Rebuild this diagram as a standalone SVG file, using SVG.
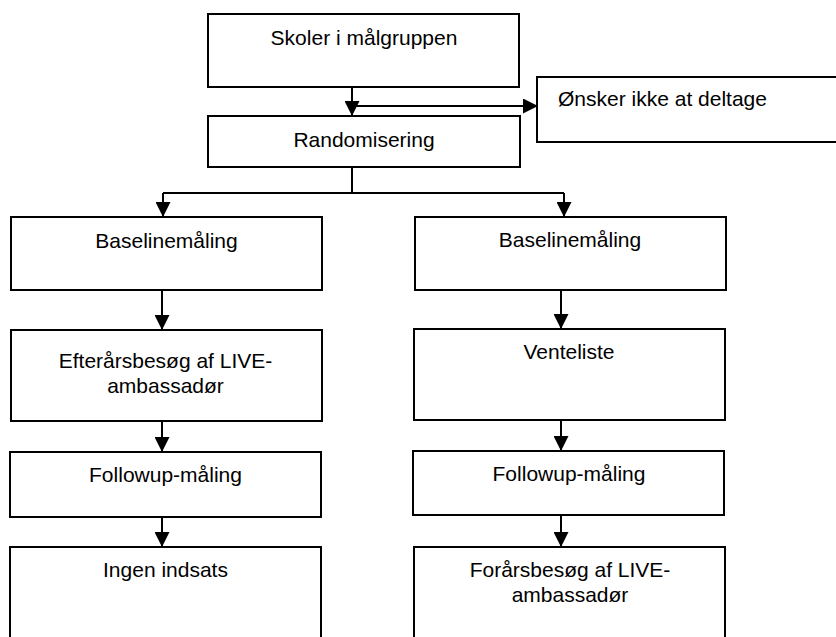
<svg xmlns="http://www.w3.org/2000/svg" width="836" height="637" viewBox="0 0 836 637">
<style>
.box{fill:#fff;stroke:#000;stroke-width:2}
.t{font-family:"Liberation Sans",Arial,sans-serif;font-size:21px;fill:#000;text-anchor:middle}
.tl{font-family:"Liberation Sans",Arial,sans-serif;font-size:21px;fill:#000}
.c{fill:none;stroke:#000;stroke-width:2}
</style>
<defs>
<marker id="ah" markerUnits="userSpaceOnUse" markerWidth="15" markerHeight="15" refX="14" refY="7" orient="auto" viewBox="0 0 14 14">
<path d="M0,0 L14,7 L0,14 z" fill="#000"/>
</marker>
</defs>
<rect width="836" height="637" fill="#fff"/>
<g id="connectors">
<path class="c" d="M352,87 V116" marker-end="url(#ah)"/>
<path class="c" d="M352,106 H538" marker-end="url(#ah)"/>
<path class="c" d="M352,167 V193"/>
<path class="c" d="M163,193 H564"/>
<path class="c" d="M163,193 V217" marker-end="url(#ah)"/>
<path class="c" d="M564,193 V217" marker-end="url(#ah)"/>
<path class="c" d="M162,290 V330" marker-end="url(#ah)"/>
<path class="c" d="M561,290 V329" marker-end="url(#ah)"/>
<path class="c" d="M162,421 V452" marker-end="url(#ah)"/>
<path class="c" d="M561,420 V451" marker-end="url(#ah)"/>
<path class="c" d="M162,517 V547" marker-end="url(#ah)"/>
<path class="c" d="M561,515 V547" marker-end="url(#ah)"/>
</g>
<g id="skoler"><rect class="box" x="208" y="14" width="311" height="73"/><text class="t" x="364" y="45">Skoler i målgruppen</text></g>
<g id="onsker"><rect class="box" x="537" y="77" width="310" height="65"/><text class="tl" x="558" y="106">Ønsker ikke at deltage</text></g>
<g id="random"><rect class="box" x="208" y="116" width="312" height="51"/><text class="t" x="364" y="147">Randomisering</text></g>
<g id="baseline-l"><rect class="box" x="11" y="217" width="311" height="73"/><text class="t" x="166.5" y="248">Baselinemåling</text></g>
<g id="baseline-r"><rect class="box" x="415" y="217" width="311" height="73"/><text class="t" x="570" y="247">Baselinemåling</text></g>
<g id="efter"><rect class="box" x="11" y="330" width="311" height="91"/><text class="t" x="165.5" y="368">Efterårsbesøg af LIVE-</text><text class="t" x="165.5" y="393">ambassadør</text></g>
<g id="vente"><rect class="box" x="414" y="329" width="311" height="91"/><text class="t" x="569" y="359">Venteliste</text></g>
<g id="follow-l"><rect class="box" x="10" y="452" width="311" height="65"/><text class="t" x="165.5" y="482">Followup-måling</text></g>
<g id="follow-r"><rect class="box" x="413" y="451" width="311" height="64"/><text class="t" x="569" y="481">Followup-måling</text></g>
<g id="ingen"><rect class="box" x="10" y="547" width="311" height="100"/><text class="t" x="165.5" y="577">Ingen indsats</text></g>
<g id="foraar"><rect class="box" x="414" y="547" width="311" height="100"/><text class="t" x="570" y="577">Forårsbesøg af LIVE-</text><text class="t" x="570" y="602">ambassadør</text></g>
</svg>
